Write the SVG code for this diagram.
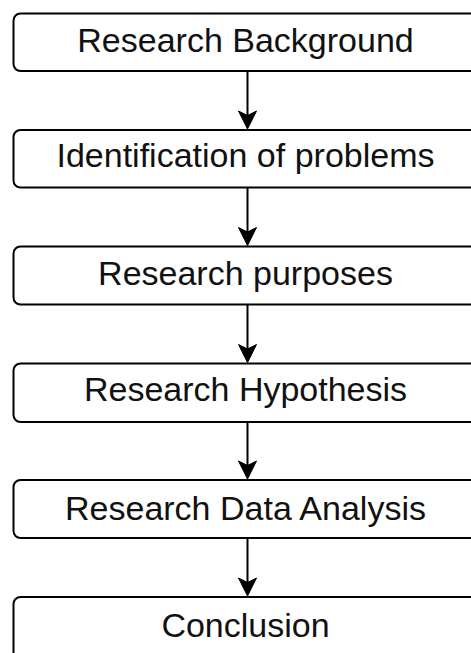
<svg xmlns="http://www.w3.org/2000/svg" width="471" height="653" viewBox="0 0 471 653">
<style>
.box{fill:#fff;stroke:#000;stroke-width:2}
.lbl{font-family:"Liberation Sans",Arial,sans-serif;font-size:34px;fill:#111;text-anchor:middle}
.edge{stroke:#000;stroke-width:2;fill:none}
.head{fill:#000;stroke:#000;stroke-width:1}
</style>
<rect width="471" height="653" fill="#fff"/>
<g id="n1"><rect class="box" x="13.5" y="13.5" width="465" height="57.5" rx="7"/><text class="lbl" x="245.5" y="52">Research Background</text></g>
<g id="n2"><rect class="box" x="13.5" y="130" width="465" height="57.5" rx="7"/><text class="lbl" x="245.5" y="167">Identification of problems</text></g>
<g id="n3"><rect class="box" x="13.5" y="246.5" width="465" height="58" rx="7"/><text class="lbl" x="245.5" y="285">Research purposes</text></g>
<g id="n4"><rect class="box" x="13.5" y="363.5" width="465" height="58.5" rx="7"/><text class="lbl" x="245.5" y="400.5">Research Hypothesis</text></g>
<g id="n5"><rect class="box" x="13.5" y="480" width="465" height="58" rx="7"/><text class="lbl" x="245.5" y="520">Research Data Analysis</text></g>
<g id="n6"><rect class="box" x="13.5" y="597" width="465" height="70" rx="7"/><text class="lbl" x="245.5" y="637">Conclusion</text></g>
<g id="edges">
<path class="edge" d="M247.5,71 V116" /><path class="head" d="M247.5,129 L238.5,111 L247.5,115.5 L256.5,111 Z"/>
<path class="edge" d="M247.5,187.5 V232" /><path class="head" d="M247.5,245.5 L238.5,227.5 L247.5,232 L256.5,227.5 Z"/>
<path class="edge" d="M247.5,304.5 V349" /><path class="head" d="M247.5,362.5 L238.5,344.5 L247.5,349 L256.5,344.5 Z"/>
<path class="edge" d="M247.5,422 V466" /><path class="head" d="M247.5,479 L238.5,461 L247.5,465.5 L256.5,461 Z"/>
<path class="edge" d="M247.5,538 V583" /><path class="head" d="M247.5,596 L238.5,578 L247.5,582.5 L256.5,578 Z"/>
</g>
</svg>
